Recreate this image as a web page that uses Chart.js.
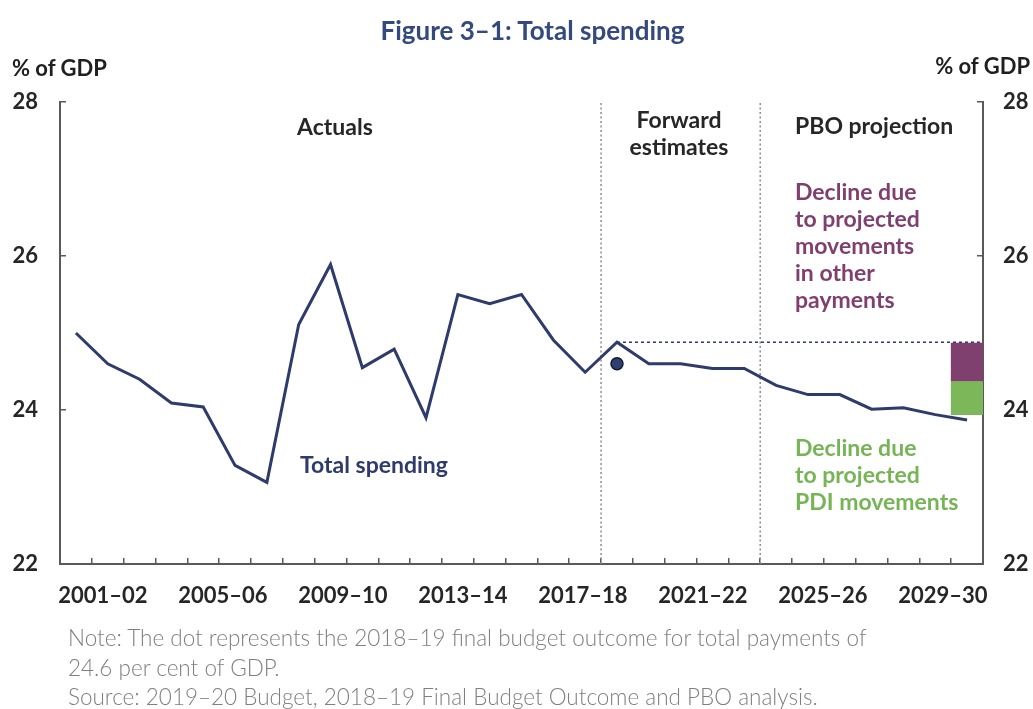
<!DOCTYPE html>
<html>
<head>
<meta charset="utf-8">
<script src="https://cdn.jsdelivr.net/npm/chart.js@4.4.1/dist/chart.umd.min.js"></script>
<style>
  html, body { margin: 0; padding: 0; background: #ffffff; }
  #wrap { position: relative; width: 1033px; height: 709px; overflow: hidden; font-family: Lato, "Open Sans", sans-serif; }
  #chartBox { position: absolute; left: 0; top: 0; width: 1033px; height: 709px; }
  .t { position: absolute; white-space: nowrap; font-weight: 700; }
  #title { left: 0; width: 1065px; top: 14px; text-align: center; font-size: 26px; line-height: 32px; color: #34497e; }
  .unit { font-size: 22px; line-height: 26px; color: #1f1f1f; }
  .ann { font-size: 23px; line-height: 27px; color: #262626; }
  .purple { color: #80406f; }
  .green { color: #76b456; }
  .navy { color: #2e3b6b; }
  #notes { position: absolute; left: 68px; top: 623px; font-size: 22.5px; line-height: 29.5px; color: #7f7f7f; font-weight: 300; font-family: Lato, sans-serif; white-space: nowrap; }
</style>
</head>
<body>
<div id="wrap">
  <div id="chartBox"><canvas id="c"></canvas></div>
  <div class="t" id="title">Figure 3–1: Total spending</div>
  <div class="t unit" style="left:12px; top:55px;">% of GDP</div>
  <div class="t unit" style="right:3px; top:53px;">% of GDP</div>
  <div class="t ann" style="left:297px; top:113px;">Actuals</div>
  <div class="t ann" style="left:614px; top:106px; width:130px; text-align:center;">Forward<br>estimates</div>
  <div class="t ann" style="left:795px; top:112px;">PBO projection</div>
  <div class="t ann purple" style="left:795px; top:178px;">Decline due<br>to projected<br>movements<br>in other<br>payments</div>
  <div class="t ann green" style="left:795px; top:434px;">Decline due<br>to projected<br>PDI movements</div>
  <div class="t ann navy" style="left:300px; top:451px;">Total spending</div>
  <div id="notes">Note: The dot represents the 2018–19 final budget outcome for total payments of<br>24.6 per cent of GDP.<br>Source: 2019–20 Budget, 2018–19 Final Budget Outcome and PBO analysis.</div>
</div>
<script>
// ---- data ----
const categories = ['2001–02','2002–03','2003–04','2004–05','2005–06','2006–07','2007–08','2008–09','2009–10','2010–11',
  '2011–12','2012–13','2013–14','2014–15','2015–16','2016–17','2017–18','2018–19','2019–20','2020–21',
  '2021–22','2022–23','2023–24','2024–25','2025–26','2026–27','2027–28','2028–29','2029–30'];
const totalSpending = [25.00, 24.60, 24.40, 24.09, 24.04, 23.28, 23.06, 25.11, 25.89, 24.55,
  24.79, 23.90, 25.50, 25.38, 25.50, 24.91, 24.49, 24.88, 24.60, 24.60,
  24.54, 24.54, 24.32, 24.20, 24.20, 24.01, 24.03, 23.94, 23.87];
const finalOutcomeYear = '2018–19';
const finalOutcomeValue = 24.6;
const referenceLevel = 24.88;          // 2018–19 budget estimate carried forward
const declineYear = '2029–30';
const pdiDecline = [23.94, 24.37];      // green block (low, high)
const otherPaymentsDecline = [24.37, 24.87]; // purple block (low, high)
const periodBreakAfter = ['2017–18', '2022–23'];
const tickLabels = ['2001–02','2005–06','2009–10','2013–14','2017–18','2021–22','2025–26','2029–30'];
const yTicks = [22, 24, 26, 28];

// ---- build datasets ----
const n = categories.length;
const dotData = categories.map(c => c === finalOutcomeYear ? finalOutcomeValue : null);
const greenData = categories.map(c => c === declineYear ? pdiDecline : null);
const purpleData = categories.map(c => c === declineYear ? otherPaymentsDecline : null);
const refStart = categories.indexOf(finalOutcomeYear);
const axisMax = n - 0.5;
const breakDatasets = periodBreakAfter.map(c => {
  const xv = categories.indexOf(c) + 0.5;
  return {
    type: 'line', xAxisID: 'xl', yAxisID: 'y',
    data: [{x: xv, y: yTicks[0]}, {x: xv, y: yTicks[yTicks.length - 1]}],
    borderColor: '#8c8c8c', borderWidth: 1.5, borderDash: [2, 2.5],
    pointRadius: 0, order: 5
  };
});

const LABEL_START = 0.85, LABEL_STEP = 3.77;
const axisColor = '#595959';
const tickFont = { family: 'Lato, "Open Sans", sans-serif', size: 22, weight: 'bold' };

new Chart(document.getElementById('c'), {
  data: {
    labels: categories,
    datasets: [
      { type: 'line', label: 'Total spending', data: totalSpending, xAxisID: 'x', yAxisID: 'y',
        borderColor: '#2e3b6b', borderWidth: 3, pointRadius: 0, tension: 0, order: 1,
        borderJoinStyle: 'miter' },
      { type: 'line', label: 'Final budget outcome', data: dotData, xAxisID: 'x', yAxisID: 'y',
        showLine: false, pointRadius: 6, pointBackgroundColor: '#2e3f72', pointBorderColor: '#141a30',
        pointBorderWidth: 1.5, order: 0 },
      { type: 'line', label: 'Reference', xAxisID: 'xl', yAxisID: 'y',
        data: [{x: refStart, y: referenceLevel}, {x: axisMax, y: referenceLevel}],
        borderColor: '#2e3b6b', borderWidth: 1.5, borderDash: [3, 3], pointRadius: 0, order: 2 },
      ...breakDatasets,
      { type: 'bar', label: 'PDI', data: greenData, xAxisID: 'x', yAxisID: 'y',
        backgroundColor: '#7cb85a', grouped: false, barPercentage: 1, categoryPercentage: 1, order: 10 },
      { type: 'bar', label: 'Other', data: purpleData, xAxisID: 'x', yAxisID: 'y',
        backgroundColor: '#80406f', grouped: false, barPercentage: 1, categoryPercentage: 1, order: 10 }
    ]
  },
  options: {
    responsive: true, maintainAspectRatio: false, animation: false,
    layout: { padding: { top: 102, bottom: 85, left: 0, right: 0 } },
    plugins: { legend: { display: false }, tooltip: { enabled: false } },
    scales: {
      x: {
        type: 'category', position: 'bottom', offset: true, weight: 0,
        grid: { offset: true, drawOnChartArea: false, drawTicks: true, tickLength: -6, color: axisColor, lineWidth: 1.5 },
        border: { display: true, color: axisColor, width: 2 },
        ticks: { display: false, autoSkip: false },
        afterFit: s => { s.height = 0; }
      },
      xl: {
        type: 'linear', position: 'bottom', min: -0.5, max: axisMax, weight: 1,
        grid: { display: false }, border: { display: false },
        ticks: { font: tickFont, color: '#262626', padding: 11, maxRotation: 0, autoSkip: false,
          callback: (v, i) => tickLabels[i] },
        afterBuildTicks: s => { s.ticks = tickLabels.map((l, k) => ({ value: LABEL_START + k * LABEL_STEP })); },
        afterFit: s => { s.height = 60; }
      },
      y: {
        position: 'left', min: 22, max: 28,
        grid: { drawOnChartArea: false, drawTicks: true, tickLength: -6, color: axisColor, lineWidth: 1.5 },
        border: { display: true, color: axisColor, width: 2 },
        ticks: { font: tickFont, color: '#262626', padding: 28, stepSize: 2 },
        afterBuildTicks: s => { s.ticks = yTicks.map(v => ({ value: v })); },
        afterFit: s => { s.width = 60; }
      },
      y2: {
        position: 'right', min: 22, max: 28,
        grid: { drawOnChartArea: false, drawTicks: true, tickLength: -6, color: axisColor, lineWidth: 1.5 },
        border: { display: true, color: axisColor, width: 2 },
        ticks: { font: tickFont, color: '#262626', padding: 26, stepSize: 2 },
        afterBuildTicks: s => { s.ticks = yTicks.map(v => ({ value: v })); },
        afterFit: s => { s.width = 50; }
      }
    }
  }
});
</script>
</body>
</html>
